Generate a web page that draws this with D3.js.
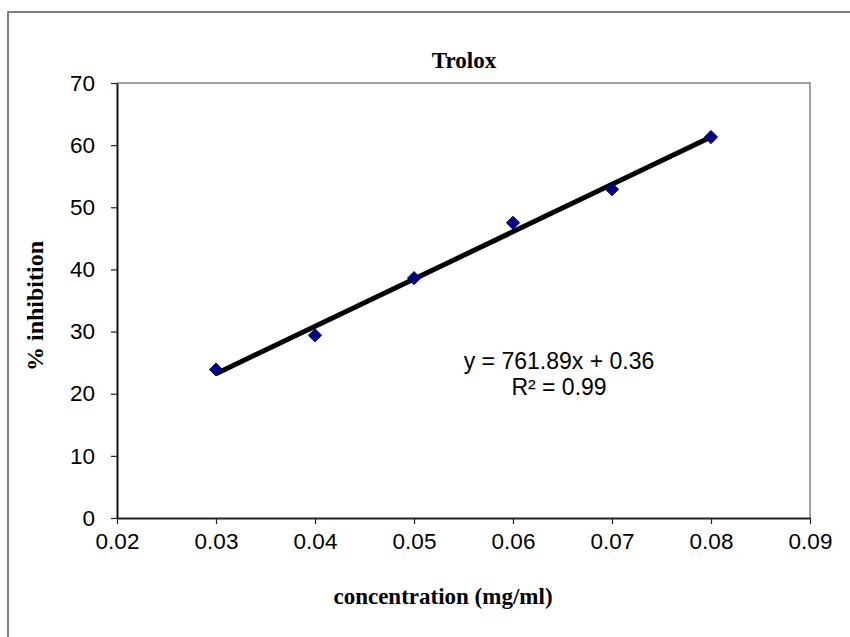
<!DOCTYPE html>
<html lang="en">
<head>
<meta charset="UTF-8">
<script src="https://d3js.org/d3.v7.min.js"></script>
<style>
  body { margin: 0; background: #fff; }
  svg text { fill: #000; }
</style>
</head>
<body>
<div id="chart"></div>
<script>
    // data
    const concentration = [0.03, 0.04, 0.05, 0.06, 0.07, 0.08];
    const inhibition = [23.9, 29.4, 38.6, 47.5, 52.9, 61.3];
    const xTicks = [0.02, 0.03, 0.04, 0.05, 0.06, 0.07, 0.08, 0.09];
    const yTicks = [0, 10, 20, 30, 40, 50, 60, 70];
    const slope = 761.89;
    const intercept = 0.36;
    const eqLines = ["y = 761.89x + 0.36", "R² = 0.99"];

    const width = 850;
    const height = 637;
    const plotL = 117, plotR = 810, plotT = 83, plotB = 518;

    const xScale = d3.scaleLinear().domain([0.02, 0.09]).range([plotL, plotR]);
    const yScale = d3.scaleLinear().domain([0, 70]).range([plotB, plotT]);

    const svg = d3.select('#chart').append('svg')
        .attr('width', width)
        .attr('height', height);

    // outer chart border
    svg.append('rect')
        .attr('x', 8).attr('y', 12)
        .attr('width', 860).attr('height', 640)
        .attr('fill', 'none')
        .attr('stroke', '#555')
        .attr('stroke-width', 1.5);

    // plot frame (top/right grey)
    svg.append('path')
        .attr('d', `M${plotL},${plotT}H${plotR}V${plotB}`)
        .attr('fill', 'none')
        .attr('stroke', '#808080')
        .attr('stroke-width', 1.5);

    // axes
    const sans = '"Liberation Sans", Arial, sans-serif';
    const xAxis = d3.axisBottom(xScale).tickValues(xTicks).tickFormat(d3.format('.2f')).tickSize(6).tickSizeOuter(0);
    const gx = svg.append('g')
        .attr('transform', `translate(0,${plotB})`)
        .call(xAxis);
    gx.select('.domain').attr('stroke', '#222').attr('stroke-width', 2);
    gx.selectAll('.tick line').attr('stroke', '#222').attr('stroke-width', 1.2);
    gx.selectAll('.tick text')
        .attr('y', 15)
        .style('font-family', sans)
        .style('font-size', '22.5px');

    const yAxis = d3.axisLeft(yScale).tickValues(yTicks).tickSize(6).tickSizeOuter(0);
    const gy = svg.append('g')
        .attr('transform', `translate(${plotL},0)`)
        .call(yAxis);
    gy.select('.domain').attr('stroke', '#111').attr('stroke-width', 2);
    gy.selectAll('.tick line').attr('stroke', '#222').attr('stroke-width', 1.2);
    gy.selectAll('.tick text')
        .attr('x', -22)
        .style('font-family', sans)
        .style('font-size', '22.5px');

    // trendline
    const xs = d3.extent(concentration);
    svg.append('line')
        .attr('x1', xScale(xs[0])).attr('y1', yScale(slope * xs[0] + intercept))
        .attr('x2', xScale(xs[1])).attr('y2', yScale(slope * xs[1] + intercept))
        .attr('stroke', '#000')
        .attr('stroke-width', 5);

    // markers
    const diamond = d3.symbol().type(d3.symbolDiamond2).size(110);
    svg.selectAll('path.pt')
        .data(concentration)
        .enter()
        .append('path')
        .attr('class', 'pt')
        .attr('d', diamond)
        .attr('transform', (d, i) => `translate(${xScale(d)},${yScale(inhibition[i])})`)
        .attr('fill', '#000080')
        .attr('stroke', '#000080')
        .attr('stroke-width', 1);

    // equation
    svg.append('g').selectAll('text')
        .data(eqLines)
        .enter()
        .append('text')
        .attr('x', 559)
        .attr('y', (d, i) => 369 + i * 26)
        .attr('text-anchor', 'middle')
        .style('font-family', sans)
        .style('font-size', '23px')
        .text(d => d);

    // titles
    const serif = '"Liberation Serif", "Times New Roman", serif';
    svg.append('text')
        .attr('x', 464).attr('y', 68)
        .attr('text-anchor', 'middle')
        .style('font-family', serif).style('font-weight', 'bold').style('font-size', '23px')
        .text('Trolox');

    svg.append('text')
        .attr('x', 443).attr('y', 604)
        .attr('text-anchor', 'middle')
        .style('font-family', serif).style('font-weight', 'bold').style('font-size', '23px')
        .text('concentration (mg/ml)');

    svg.append('text')
        .attr('transform', 'translate(43,306) rotate(-90)')
        .attr('text-anchor', 'middle')
        .style('font-family', serif).style('font-weight', 'bold').style('font-size', '24px')
        .text('% inhibition');
</script>
</body>
</html>
